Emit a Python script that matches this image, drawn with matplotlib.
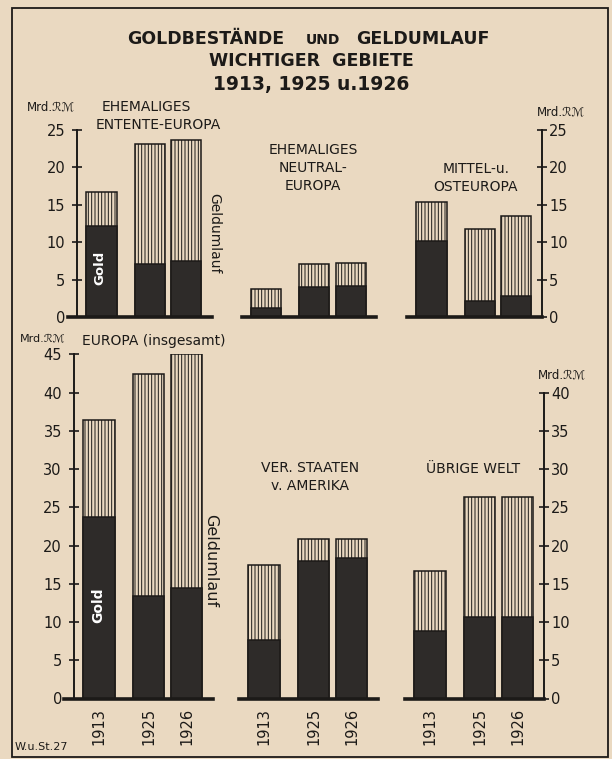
"""Goldbestände und Geldumlauf wichtiger Gebiete, 1913, 1925 u. 1926."""

import matplotlib.pyplot as plt
from matplotlib.patches import Rectangle

W, H = 612, 759
BG = "#ead9c1"
INK = "#1c1a18"
DARK = "#2e2b29"

YEARS = ["1913", "1925", "1926"]
X_POS = [0.0, 1.56, 2.74]
BAR_W = 0.97
XLIM = (-0.79, 3.55)

TOP_REGIONS = ["EHEMALIGES\nENTENTE-EUROPA", "EHEMALIGES\nNEUTRAL-\nEUROPA", "MITTEL-u.\nOSTEUROPA"]
TOP_GOLD = [[12.2, 7.1, 7.5], [1.2, 4.0, 4.1], [10.2, 2.1, 2.8]]
TOP_GELDUMLAUF = [[16.7, 23.1, 23.7], [3.7, 7.1, 7.2], [15.4, 11.8, 13.5]]

BOTTOM_REGIONS = ["EUROPA (insgesamt)", "VER. STAATEN\nv. AMERIKA", "ÜBRIGE WELT"]
BOTTOM_GOLD = [[23.8, 13.4, 14.4], [7.7, 18.0, 18.4], [8.8, 10.7, 10.6]]
BOTTOM_GELDUMLAUF = [[36.4, 42.4, 45.0], [17.4, 20.9, 20.9], [16.7, 26.4, 26.3]]

TOP_TICKS = [0, 5, 10, 15, 20, 25]
BOTTOM_LEFT_TICKS = [0, 5, 10, 15, 20, 25, 30, 35, 40, 45]
BOTTOM_RIGHT_TICKS = [0, 5, 10, 15, 20, 25, 30, 35, 40]

plt.rcParams["font.family"] = ["DejaVu Sans"]
plt.rcParams["hatch.linewidth"] = 0.7
plt.rcParams["hatch.color"] = INK


def fx(x):
    return x / W


def fy(y):
    return 1 - y / H


def add_panel(fig, center, unit, zero_y, scale, ymax, gold, geld, side=None, ticks=None,
              years=False, ext=0):
    left = center + XLIM[0] * unit
    width = (XLIM[1] - XLIM[0]) * unit
    ax = fig.add_axes([fx(left), (H - zero_y) / H, width / W, ymax * scale / H])
    ax.set_xlim(*XLIM)
    ax.set_ylim(0, ymax)
    ax.patch.set_alpha(0)

    ax.bar(X_POS, geld, width=BAR_W, color=BG, edgecolor=INK, hatch="|||||", linewidth=1.1, zorder=2)
    ax.bar(X_POS, gold, width=BAR_W, color=DARK, edgecolor=INK, linewidth=1.1, zorder=3)

    for s in ax.spines.values():
        s.set_visible(False)
    ax.axhline(0, xmin=-ext / width, xmax=1, color=INK, lw=2.6, clip_on=False, zorder=4)

    if side is None:
        ax.set_yticks([])
    else:
        sp = ax.spines[side]
        sp.set_visible(True)
        sp.set_linewidth(1.4)
        sp.set_color(INK)
        sp.set_bounds(0, ticks[-1])
        ax.set_yticks(ticks)
        ax.yaxis.set_ticks_position(side)
        ax.tick_params(axis="y", direction="inout", length=7, width=1.2, color=INK,
                       labelsize=10.5, labelcolor=INK, pad=5 if side == "left" else 2)

    if years:
        ax.set_xticks(X_POS, YEARS, rotation=90)
        ax.tick_params(axis="x", length=0, pad=7, labelsize=10.5, labelcolor=INK)
    else:
        ax.set_xticks([])
    return ax


fig = plt.figure(figsize=(W / 100, H / 100), dpi=100, facecolor=BG)

# outer frame
fig.patches.append(Rectangle((fx(12), fy(757)), fx(608 - 12), (757 - 8) / H, transform=fig.transFigure,
                             fill=False, edgecolor=INK, linewidth=1.3))

# title
fig.text(fx(206), fy(44), "GOLDBESTÄNDE", fontsize=12.5, fontweight="bold", ha="center", color=INK)
fig.text(fx(323), fy(44), "UND", fontsize=10, fontweight="bold", ha="center", color=INK)
fig.text(fx(423), fy(44), "GELDUMLAUF", fontsize=12.5, fontweight="bold", ha="center", color=INK)
fig.text(fx(311), fy(66), "WICHTIGER  GEBIETE", fontsize=12.5, fontweight="bold", ha="center", color=INK)
fig.text(fx(311), fy(90), "1913, 1925 u.1926", fontsize=13.5, fontweight="bold", ha="center", color=INK)

# top row: scale 0-25
top_centers = [101.5, 266, 431.5]
for i, c in enumerate(top_centers):
    side = "left" if i == 0 else ("right" if i == 2 else None)
    add_panel(fig, c, 31, 317, 7.48, 25, TOP_GOLD[i], TOP_GELDUMLAUF[i], side=side,
              ticks=TOP_TICKS, ext=9 if i == 0 else 0)

# bottom row: scale 0-45 / 0-40
bottom_centers = [99, 264, 430]
for i, c in enumerate(bottom_centers):
    side = "left" if i == 0 else ("right" if i == 2 else None)
    ticks = BOTTOM_LEFT_TICKS if i == 0 else BOTTOM_RIGHT_TICKS
    add_panel(fig, c, 32, 698.5, 7.645, 45, BOTTOM_GOLD[i], BOTTOM_GELDUMLAUF[i], side=side,
              ticks=ticks, years=True, ext=10 if i == 0 else 0)

# panel headings
unit_lbl = "Mrd.ℛℳ"
fig.text(fx(27), fy(107), unit_lbl, fontsize=8.5, va="center", color=INK)
fig.text(fx(102), fy(107), TOP_REGIONS[0].split("\n")[0], fontsize=10, va="center", color=INK)
fig.text(fx(158), fy(125), TOP_REGIONS[0].split("\n")[1], fontsize=10, va="center", ha="center", color=INK)
fig.text(fx(313), fy(168), TOP_REGIONS[1], fontsize=10, va="center", ha="center", color=INK,
         linespacing=1.35)
fig.text(fx(476), fy(178), TOP_REGIONS[2], fontsize=10, va="center", ha="center", color=INK,
         linespacing=1.35)
fig.text(fx(561), fy(112), unit_lbl, fontsize=8.5, va="center", ha="center", color=INK)

fig.text(fx(20), fy(339), unit_lbl, fontsize=8, va="center", color=INK)
fig.text(fx(82), fy(341), BOTTOM_REGIONS[0], fontsize=10, va="center", color=INK)
fig.text(fx(310), fy(477), BOTTOM_REGIONS[1], fontsize=10, va="center", ha="center", color=INK,
         linespacing=1.35)
fig.text(fx(473), fy(469), BOTTOM_REGIONS[2], fontsize=10, va="center", ha="center", color=INK)
fig.text(fx(562), fy(375), unit_lbl, fontsize=8.5, va="center", ha="center", color=INK)

# series labels
fig.text(fx(100), fy(268), "Gold", fontsize=9.5, fontweight="bold", rotation=90, color="white",
         ha="center", va="center")
fig.text(fx(214), fy(233), "Geldumlauf", fontsize=10, rotation=270, color=INK, ha="center", va="center")
fig.text(fx(98), fy(605), "Gold", fontsize=10, fontweight="bold", rotation=90, color="white",
         ha="center", va="center")
fig.text(fx(211), fy(561), "Geldumlauf", fontsize=11.5, rotation=270, color=INK, ha="center", va="center")

fig.text(fx(15), fy(747), "W.u.St.27", fontsize=8, va="center", color=INK)

fig.savefig("out.png", dpi=100, facecolor=BG)
